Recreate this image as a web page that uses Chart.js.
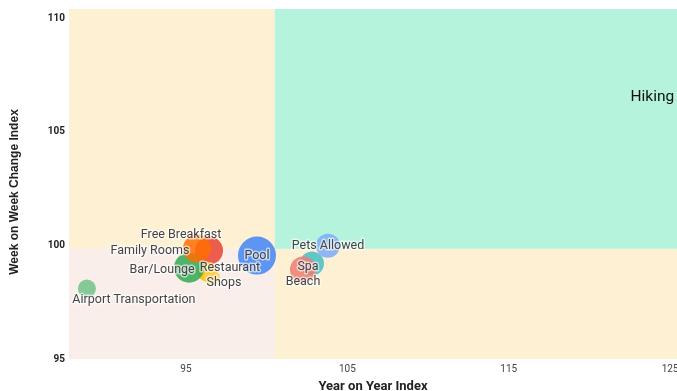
<!DOCTYPE html>
<html>
<head>
<meta charset="utf-8">
<script src="https://cdn.jsdelivr.net/npm/chart.js@4"></script>
<style>
  html, body { margin: 0; padding: 0; background: #fff; }
  #wrap { width: 677px; height: 391px; }
</style>
</head>
<body>
<div id="wrap"><canvas id="grafico"></canvas></div>
<script>
// datos
const amenities = ['Pool', 'Free Breakfast', 'Restaurant', 'Bar/Lounge', 'Family Rooms', 'Spa',
  'Pets Allowed', 'Beach', 'Shops', 'Airport Transportation', 'Hiking'];
const yearOnYear = [99.4, 96.43, 96.3, 95.19, 95.68, 102.81, 103.8, 102.25, 96.61, 88.86, 123.9];
const weekOnWeek = [99.55, 99.77, 98.85, 99.02, 99.86, 99.2, 99.98, 98.94, 98.58, 98.1, 106.52];
const bubbleSize = [19, 14, 10, 15, 14, 12, 12, 13, 8, 9, 0];
const xTicks = [95, 105, 115, 125];
const yTicks = [95, 100, 105, 110];

const colores = ['#4285F4', '#EA4335', '#FBBC04', '#34A853', '#FF6D01', '#46BDC6',
  '#7BAAF7', '#F07B72', '#FCD04F', '#71C287', '#FF994D'];
// desplazamiento de las etiquetas (px)
const labelNudge = [[0, 0], [-28, -16], [23, -4], [-27, 2], [-47, 2], [-4, 3],
  [0, 0], [0, 12], [12, 5], [47, 11], [0, 0]];

const xSplit = 100.5, ySplit = 99.85;

const cuadrantes = {
  id: 'cuadrantes',
  beforeDatasetsDraw(chart) {
    const { ctx, chartArea: a, scales: { x, y } } = chart;
    const sx = x.getPixelForValue(xSplit), sy = y.getPixelForValue(ySplit);
    ctx.save();
    ctx.fillStyle = '#fef1d3';
    ctx.fillRect(a.left, a.top, sx - a.left, sy - a.top);
    ctx.fillRect(sx, sy, a.right - sx, a.bottom - sy);
    ctx.fillStyle = '#b5f3dc';
    ctx.fillRect(sx, a.top, a.right - sx, sy - a.top);
    ctx.fillStyle = '#f9eeea';
    ctx.fillRect(a.left, sy, sx - a.left, a.bottom - sy);
    ctx.restore();
  }
};

const etiquetas = {
  id: 'etiquetas',
  afterDatasetsDraw(chart) {
    const { ctx } = chart;
    const meta = chart.getDatasetMeta(0);
    ctx.save();
    ctx.textAlign = 'center';
    ctx.textBaseline = 'middle';
    meta.data.forEach((p, i) => {
      const tx = p.x + labelNudge[i][0], ty = p.y + labelNudge[i][1];
      if (amenities[i] === 'Hiking') {
        ctx.font = '15.5px Roboto';
        ctx.fillStyle = '#111';
        ctx.fillText(amenities[i], tx, ty);
        return;
      }
      ctx.font = '12.5px Roboto';
      ctx.lineWidth = 3;
      ctx.lineJoin = 'round';
      ctx.strokeStyle = 'rgba(255,255,255,0.6)';
      ctx.strokeText(amenities[i], tx, ty);
      ctx.fillStyle = '#444';
      ctx.fillText(amenities[i], tx, ty);
    });
    ctx.restore();
  }
};

// titulo del eje Y, dibujado a mano para centrarlo como en la imagen
const tituloY = {
  id: 'tituloY',
  afterDraw(chart) {
    const { ctx } = chart;
    ctx.save();
    ctx.translate(15, 192);
    ctx.rotate(-Math.PI / 2);
    ctx.textAlign = 'center';
    ctx.textBaseline = 'middle';
    ctx.font = 'bold 12px "Liberation Sans"';
    ctx.fillStyle = '#222';
    ctx.fillText('Week on Week Change Index', 0, 0);
    ctx.restore();
  }
};

new Chart(document.getElementById('grafico'), {
  type: 'bubble',
  data: {
    datasets: [{
      data: amenities.map((n, i) => ({ x: yearOnYear[i], y: weekOnWeek[i], r: bubbleSize[i] })),
      backgroundColor: colores.map(c => c + 'd9'),
      borderWidth: 0,
      hoverRadius: 0
    }]
  },
  options: {
    responsive: true,
    maintainAspectRatio: false,
    animation: false,
    layout: { autoPadding: false, padding: { top: 9, right: 0, left: 0, bottom: 0 } },
    plugins: { legend: { display: false }, tooltip: { enabled: false } },
    scales: {
      x: {
        type: 'linear',
        min: 87.75,
        max: 125.43,
        afterBuildTicks: s => { s.ticks = xTicks.map(v => ({ value: v })); },
        afterFit: s => { s.height = 32; s.paddingLeft = 0; s.paddingRight = 0; },
        grid: { display: false, drawTicks: false },
        border: { display: false },
        ticks: { color: '#444', font: { family: 'Roboto', size: 10 }, padding: 4 },
        title: { display: true, text: 'Year on Year Index', color: '#222',
          font: { family: 'Roboto', size: 13, weight: 'bold' }, padding: { top: 0, bottom: -4 } }
      },
      y: {
        type: 'linear',
        min: 95,
        max: 110.4,
        afterBuildTicks: s => { s.ticks = yTicks.map(v => ({ value: v })); },
        afterFit: s => { s.width = 69; s.paddingTop = 0; s.paddingBottom = 0; },
        grid: { display: false, drawTicks: false },
        border: { display: false },
        ticks: { color: '#222', font: { family: 'Roboto', size: 10, weight: 'bold' }, padding: 4 }
      }
    }
  },
  plugins: [cuadrantes, etiquetas, tituloY]
});
</script>
</body>
</html>
